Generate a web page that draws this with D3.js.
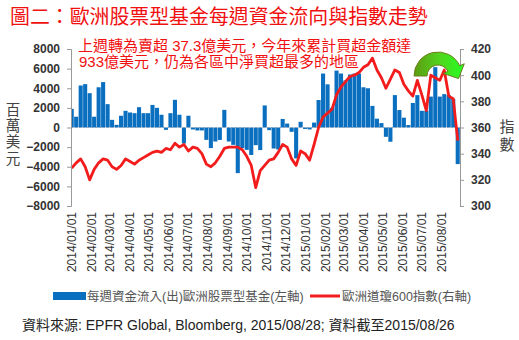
<!DOCTYPE html>
<html><head><meta charset="utf-8">
<script src="https://cdn.jsdelivr.net/npm/d3@7"></script>
<style>
html,body{margin:0;padding:0;background:#fff;}
svg{display:block;font-family:"Liberation Sans",Arial,"Noto Sans CJK TC",sans-serif;}
</style></head>
<body><svg id="c" width="519" height="340"></svg>
<script>
// ---- data ----
const startDate = "2014-01-01";   // first weekly observation (Wednesdays)
const flows = [1900,1100,4280,4420,3500,1100,4100,4630,2380,780,270,1200,1700,1530,1460,2070,1460,1460,2300,2000,1300,-240,1460,2820,1300,-1630,1200,-200,-300,
  -300,-1260,-2100,-1430,-1270,1800,-1430,-1770,-4650,-2100,-2280,-2800,-1800,-2300,2250,-270,-2140,-2240,870,400,-440,-3150,580,-150,-200,500,2800,5500,4400,
  2000,5800,5500,4800,5400,5500,5500,4100,4000,2200,900,450,-950,-1450,3300,1780,1000,250,2500,3300,1700,1700,3150,6150,3150,3400,3300,2900,-3730];
const stoxx = [329,333,336,330,320,328,333,336,335,330,328,331,336,334,332,335,337,339,341,342,341,344,343,348,345,347,342,345,344,
  340,332,330,333,338,344,345,345,345,343,338,331,314,327,331,335,336,341,347,345,336,331,342,340,335,347,360,368,371,
  374,385,391,395,399,400,402,406,408,413,404,398,390,397,404,402,393,388,384,396,385,373,400,398,396,404,384,382,350];
const monthLabels = ["2014/01/01","2014/02/01","2014/03/01","2014/04/01","2014/05/01","2014/06/01","2014/07/01","2014/08/01","2014/09/01","2014/10/01","2014/11/01","2014/12/01",
  "2015/01/01","2015/02/01","2015/03/01","2015/04/01","2015/05/01","2015/06/01","2015/07/01","2015/08/01"];
const leftTicks = [-8000,-6000,-4000,-2000,0,2000,4000,6000,8000];
const rightTicks = [300,320,340,360,380,400,420];
const title = "圖二：歐洲股票型基金每週資金流向與指數走勢";
const note1 = "上週轉為賣超 37.3億美元，今年來累計買超金額達";
const note2 = "933億美元，仍為各區中淨買超最多的地區";
const leftTitle = "百萬美元";
const rightTitle = "指數";
const legend1 = "每週資金流入(出)歐洲股票型基金(左軸)";
const legend2 = "歐洲道瓊600指數(右軸)";
const source = "資料來源: EPFR Global, Bloomberg, 2015/08/28; 資料截至2015/08/26";

// ---- chart ----
const parse = d3.timeParse("%Y/%m/%d");
const p0 = d3.timeParse("%Y-%m-%d")(startDate);
const weeks = flows.map((v,i)=>({date:d3.timeDay.offset(p0,7*i), flow:v, idx:stoxx[i]}));
const svg = d3.select("#c");
const L = 71, R = 460, T = 49, B = 206;
const x = d3.scaleTime().domain([parse("2014/01/01"), parse("2015/08/01")]).range([71.7, 441.7]);
const y = d3.scaleLinear().domain([-8000,8000]).range([B,T]);
const y2 = d3.scaleLinear().domain([300,420]).range([B,T]);
const bw = x(d3.timeDay.offset(p0,7)) - x(p0);

svg.append("rect").attr("width",519).attr("height",340).attr("fill","#fff");

svg.append("defs").append("clipPath").attr("id","plot").append("rect")
  .attr("x",L).attr("y",T-5).attr("width",R-L).attr("height",B-T+10);

const g = svg.append("g").attr("clip-path","url(#plot)");
g.selectAll("rect.bar").data(weeks).join("rect").attr("class","bar")
  .attr("x",d=>x(d.date)-bw/2+0.2).attr("width",bw-0.4)
  .attr("y",d=>Math.min(y(d.flow),y(0))).attr("height",d=>Math.abs(y(d.flow)-y(0)))
  .attr("fill","#0b6fc0");
g.append("line").attr("x1",L).attr("x2",R).attr("y1",y(0)).attr("y2",y(0))
  .attr("stroke","#8da3b8").attr("stroke-width",1).attr("stroke-dasharray","2,2");
g.append("path").datum(weeks)
  .attr("d",d3.line().x(d=>x(d.date)).y(d=>y2(d.idx)))
  .attr("fill","none").attr("stroke","#f21c1c").attr("stroke-width",2.8).attr("stroke-linejoin","round");

// axes
const ax = svg.append("g").attr("transform",`translate(${L},0)`)
  .call(d3.axisLeft(y).tickValues(leftTicks).tickSize(4).tickPadding(7).tickFormat(d3.format("d")));
const ar = svg.append("g").attr("transform",`translate(${R},0)`)
  .call(d3.axisRight(y2).tickValues(rightTicks).tickSize(4).tickPadding(7));
[ax,ar].forEach(a=>{
  a.select(".domain").attr("stroke","#999");
  a.selectAll(".tick line").attr("stroke","#999");
  a.selectAll("text").attr("font-size",12).attr("font-weight","bold").attr("fill","#333")
    .attr("font-family","'Liberation Sans',Arial,sans-serif");
});

// x labels
svg.append("g").selectAll("text").data(monthLabels).join("text")
  .attr("transform",d=>`translate(${x(parse(d))},212) rotate(-90)`)
  .attr("text-anchor","end").attr("dy","0.36em")
  .attr("font-size",12).attr("fill","#333").text(d=>d);

// axis titles (vertical writing)
svg.append("text").attr("x",13).attr("y",102).attr("writing-mode","vertical-rl")
  .attr("font-size",14.5).attr("letter-spacing",1.8).attr("fill","#444")
  .attr("font-family","'Noto Sans CJK TC'").text(leftTitle);
svg.append("text").attr("x",507).attr("y",119).attr("writing-mode","vertical-rl")
  .attr("font-size",15).attr("letter-spacing",3).attr("fill","#444")
  .attr("font-family","'Noto Sans CJK TC'").text(rightTitle);

// title & notes
svg.append("text").attr("x",10).attr("y",24).attr("font-size",19.9).attr("fill","#f01010")
  .attr("font-family","'Noto Sans CJK TC'").text(title);
svg.append("text").attr("x",78).attr("y",51).attr("font-size",15).attr("fill","#f01010")
  .attr("font-family","'Liberation Sans','Noto Sans CJK TC'").text(note1);
svg.append("text").attr("x",79).attr("y",67).attr("font-size",15).attr("fill","#f01010")
  .attr("font-family","'Liberation Sans','Noto Sans CJK TC'").text(note2);

// green arrow
const grad = svg.select("defs").append("linearGradient").attr("id","gg").attr("x1","0").attr("x2","1").attr("y1","0").attr("y2","0");
grad.append("stop").attr("offset","0").attr("stop-color","#5e9c12");
grad.append("stop").attr("offset","0.55").attr("stop-color","#4fd81e");
grad.append("stop").attr("offset","1").attr("stop-color","#22ff22");
const cx=438, cy=76, ro=24, ri=11, a1=-25*Math.PI/180;
const pt=(r,a)=>[cx+r*Math.cos(a), cy+r*Math.sin(a)];
const po=pt(ro,a1), pi=pt(ri,a1), rm=(ro+ri)/2, pm=pt(rm,a1);
const tdir=[Math.sin(-a1),Math.cos(a1)];
const tip=[pm[0]+11*tdir[0], pm[1]+11*tdir[1]];
const ho=pt(ro+5,a1), hi=pt(ri-5,a1);
const arrow = `M${cx-ro},${cy} A${ro},${ro} 0 0 1 ${po[0]},${po[1]} L${ho[0]},${ho[1]} L${tip[0]},${tip[1]} L${hi[0]},${hi[1]} L${pi[0]},${pi[1]} A${ri},${ri} 0 0 0 ${cx-ri},${cy} Z`;
svg.append("path").attr("d",arrow).attr("fill","url(#gg)").attr("stroke","#6b7d1c").attr("stroke-width",1);

// legend
svg.append("rect").attr("x",53).attr("y",292).attr("width",33).attr("height",8).attr("fill","#0b6fc0");
svg.append("text").attr("x",87).attr("y",300.5).attr("font-size",12.5).attr("fill","#555")
  .attr("font-family","'Liberation Sans','Noto Sans CJK TC'").text(legend1);
svg.append("line").attr("x1",310).attr("x2",340).attr("y1",296).attr("y2",296).attr("stroke","#f21c1c").attr("stroke-width",3);
svg.append("text").attr("x",342).attr("y",300.5).attr("font-size",12.5).attr("fill","#555")
  .attr("font-family","'Liberation Sans','Noto Sans CJK TC'").text(legend2);

svg.append("text").attr("x",22).attr("y",330).attr("font-size",14).attr("fill","#222")
  .attr("font-family","'Liberation Sans','Noto Sans CJK TC'").text(source);
</script></body></html>
